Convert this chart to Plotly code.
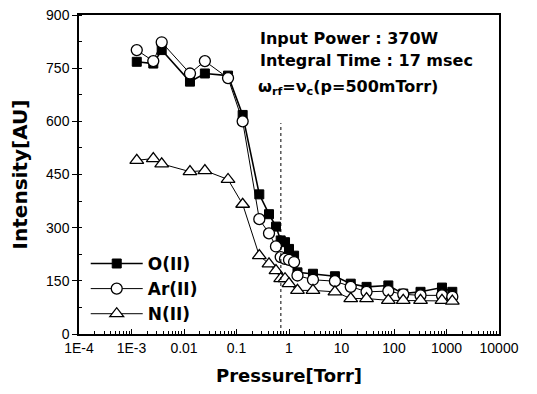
import plotly.graph_objects as go

# Pressure [Torr] (x) values
p_all = [1.26e-3, 2.6e-3, 3.76e-3, 0.013, 0.025, 0.069, 0.131, 0.272, 0.416, 0.565,
         0.695, 0.84, 1.0, 1.25, 1.45, 2.86, 7.5, 15, 30, 78, 150, 320, 820, 1290]
o_vals = [768, 763, 801, 712, 735, 729, 618, 394, 338, 303,
          264, 259, 240, 221, 174, 170, 163, 142, 133, 137, 114, 119, 131, 119]
ar_vals = [801, 770, 823, 735, 770, 722, 600, 324, 284, 247,
           217, 212, 209, 203, 165, 153, 149, 133, 119, 121, 112, 109, 109, 105]
p_n = [1.26e-3, 2.6e-3, 3.76e-3, 0.013, 0.025, 0.069, 0.131, 0.272, 0.416, 0.565,
       0.695, 0.84, 1.0, 1.45, 2.86, 7.5, 15, 30, 78, 150, 320, 820, 1290]
n_vals = [490, 495, 480, 458, 461, 436, 366, 221, 198, 179,
          156, 156, 142, 123, 123, 119, 100, 100, 95, 95, 95, 95, 93]

x_tickvals = [1e-4, 1e-3, 1e-2, 1e-1, 1, 10, 100, 1000, 10000]
x_ticktext = ["1E-4", "1E-3", "0.01", "0.1", "1", "10", "100", "1000", "10000"]
y_tickvals = [0, 150, 300, 450, 600, 750, 900]

vline_p = 0.7
vline_top = 595

FONT = "Liberation Sans, Arial, sans-serif"
BOLD = "DejaVu Sans, Liberation Sans, Arial, sans-serif"

fig = go.Figure()
fig.add_trace(go.Scatter(x=p_all, y=o_vals, name="<b>O(II)</b>", mode="lines+markers",
                         line=dict(color="black", width=1.6),
                         marker=dict(symbol="square", size=9, color="black",
                                     line=dict(color="black", width=1))))
fig.add_trace(go.Scatter(x=p_all, y=ar_vals, name="<b>Ar(II)</b>", mode="lines+markers",
                         line=dict(color="black", width=1),
                         marker=dict(symbol="circle", size=11, color="white",
                                     line=dict(color="black", width=1.3))))
fig.add_trace(go.Scatter(x=p_n, y=n_vals, name="<b>N(II)</b>", mode="lines+markers",
                         line=dict(color="black", width=1),
                         marker=dict(symbol="triangle-up", size=12, color="white",
                                     line=dict(color="black", width=1.3))))

fig.add_shape(type="line", x0=vline_p, x1=vline_p, y0=0, y1=vline_top, xref="x", yref="y",
              line=dict(color="black", width=1, dash="dot"))

fig.add_annotation(text="<b>Input Power : 370W</b>", xref="paper", yref="paper",
                   x=0.426, y=0.925, xanchor="left", yanchor="middle", showarrow=False,
                   font=dict(size=16, family=BOLD, color="black"))
fig.add_annotation(text="<b>Integral Time : 17 msec</b>", xref="paper", yref="paper",
                   x=0.426, y=0.857, xanchor="left", yanchor="middle", showarrow=False,
                   font=dict(size=16, family=BOLD, color="black"))
fig.add_annotation(text="<b>ω<sub>rf</sub>=ν<sub>c</sub>(p=500mTorr)</b>", xref="paper", yref="paper",
                   x=0.421, y=0.772, xanchor="left", yanchor="middle", showarrow=False,
                   font=dict(size=16, family=BOLD, color="black"))

fig.update_layout(
    width=521, height=378,
    margin=dict(l=71, r=30, t=7, b=52),
    paper_bgcolor="white", plot_bgcolor="white",
    font=dict(family=FONT, size=14, color="black"),
    showlegend=True,
    legend=dict(x=0.016, y=0.276, xanchor="left", yanchor="top",
                bgcolor="rgba(0,0,0,0)", font=dict(size=17, family=BOLD),
                itemwidth=52, tracegroupgap=0),
)
fig.update_xaxes(type="log", range=[-4, 4], tickvals=x_tickvals, ticktext=x_ticktext,
                 automargin=False,
                 showline=True, linecolor="black", linewidth=1.5, mirror=True,
                 ticks="inside", ticklen=5, tickcolor="black", showgrid=False, zeroline=False,
                 ticklabeloverflow="allow",
                 minor=dict(ticks="inside", ticklen=3, tickcolor="black", dtick="D1"),
                 title=dict(text="<b>Pressure[Torr]</b>", font=dict(size=18, family=BOLD), standoff=18),
                 tickfont=dict(size=14, family=FONT))
fig.update_yaxes(range=[0, 900], tickvals=y_tickvals,
                 automargin=False,
                 showline=True, linecolor="black", linewidth=1.5, mirror=True,
                 ticks="outside", ticklen=5, tickcolor="black", showgrid=False, zeroline=False,
                 ticklabeloverflow="allow",
                 minor=dict(ticks="inside", ticklen=3, tickcolor="black", dtick=75),
                 title=dict(text="<b>Intensity[AU]</b>", font=dict(size=20, family=BOLD), standoff=16),
                 tickfont=dict(size=14, family=FONT))

fig.write_html("out.html")
